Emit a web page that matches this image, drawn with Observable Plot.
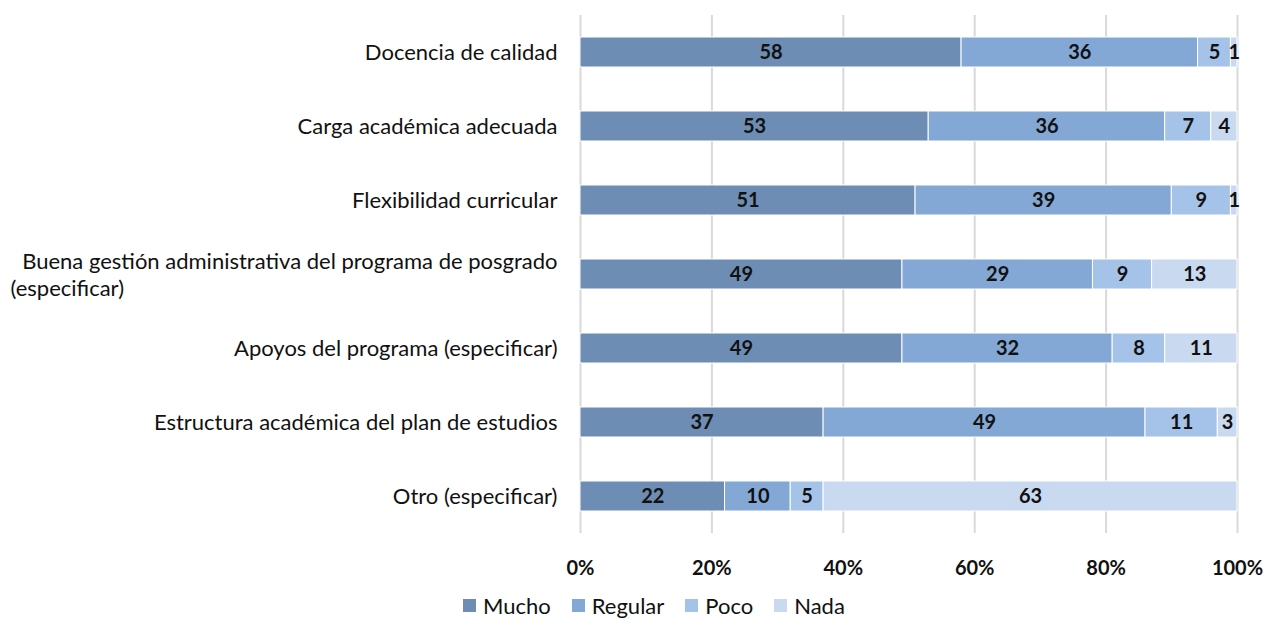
<!DOCTYPE html>
<html>
<head>
<meta charset="utf-8">
<script src="https://cdn.jsdelivr.net/npm/d3@7"></script>
<script src="https://cdn.jsdelivr.net/npm/@observablehq/plot@0.6"></script>
<style>
  body { margin: 0; background: #fff; font-family: Lato, "Open Sans", sans-serif; }
  #legend { display: flex; align-items: center; height: 25px; margin-top: 0; padding-left: 463px; font-size: 22px; line-height: 25px; color: #111; }
  #legend span.item { display: inline-flex; align-items: center; margin-right: 21px; }
  #legend span.sw { width: 13px; height: 13px; display: inline-block; margin-right: 7px; }
</style>
</head>
<body>
<div id="chart"></div>
<div id="legend"></div>
<script>
const categories = [
  "Docencia de calidad",
  "Carga académica adecuada",
  "Flexibilidad curricular",
  "Buena gestión administrativa del programa de posgrado (especificar)",
  "Apoyos del programa (especificar)",
  "Estructura académica del plan de estudios",
  "Otro (especificar)"
];
const wrappedLabel = categories[3];
const wrappedLine1 = "Buena gestión administrativa del programa de posgrado";
const wrappedLine2 = "(especificar)";
const series = ["Mucho", "Regular", "Poco", "Nada"];
const mucho   = [58, 53, 51, 49, 49, 37, 22];
const regular = [36, 36, 39, 29, 32, 49, 10];
const poco    = [5, 7, 9, 9, 8, 11, 5];
const nada    = [1, 4, 1, 13, 11, 3, 63];
const colors = ["#6e8db4", "#84a8d6", "#a5c2e8", "#c8d9f0"];
const xTicks = [0, 20, 40, 60, 80, 100];

const valuesBySeries = [mucho, regular, poco, nada];
const data = [];
categories.forEach((c, i) => {
  series.forEach((s, j) => {
    data.push({cat: c, series: s, value: valuesBySeries[j][i]});
  });
});

const font = "Lato, 'Open Sans', sans-serif";
const chart = Plot.plot({
  width: 1266,
  height: 593,
  marginLeft: 580,
  marginRight: 29,
  marginTop: 15,
  marginBottom: 60,
  style: {fontFamily: font, color: "#111", display: "block"},
  x: {domain: [0, 100], ticks: xTicks},
  y: {domain: categories, paddingInner: 0.595, paddingOuter: 0.2975, label: null},
  color: {domain: series, range: colors},
  marks: [
    Plot.ruleX(xTicks, {stroke: "#d9d9d9", strokeWidth: 2}),
    Plot.barX(data, Plot.stackX({x: "value", y: "cat", fill: "series", order: series, stroke: "white", strokeWidth: 1})),
    Plot.textX(data, Plot.stackX({x: "value", y: "cat", z: "series", order: series, text: "value", fontWeight: "bold", fontSize: 20, fill: "#111"})),
    Plot.axisX({ticks: xTicks, tickSize: 0, tickPadding: 27, tickFormat: d => d + "%", fontWeight: "bold", fontSize: 20, label: null}),
    Plot.axisY({tickSize: 0, tickPadding: 23, fontSize: 22, label: null, tickFormat: d => d === wrappedLabel ? "" : d}),
    Plot.text([wrappedLabel], {y: d => d, text: () => wrappedLine1, frameAnchor: "left", textAnchor: "end", dx: -23, dy: -13, fontSize: 22, fill: "#111"}),
    Plot.text([wrappedLabel], {y: d => d, text: () => wrappedLine2, frameAnchor: "left", textAnchor: "start", dx: -570, dy: 14, fontSize: 22, fill: "#111"})
  ]
});
document.getElementById("chart").appendChild(chart);

const legend = document.getElementById("legend");
series.forEach((s, i) => {
  const item = document.createElement("span");
  item.className = "item";
  item.innerHTML = `<span class="sw" style="background:${colors[i]}"></span>${s}`;
  legend.appendChild(item);
});
</script>
</body>
</html>
